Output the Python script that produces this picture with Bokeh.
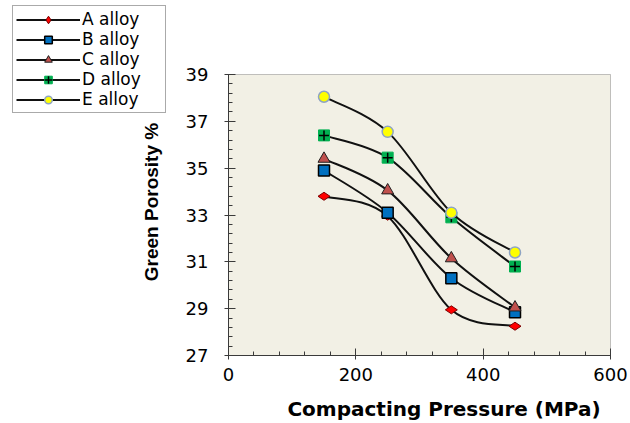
import numpy as np
from bokeh.plotting import figure
from bokeh.models import (Legend, LegendItem, FixedTicker, Range1d, LinearAxis,
                          BoxAnnotation, Label)
from bokeh.embed import file_html
from bokeh.resources import INLINE

# ---- data ----
pressure = [150, 250, 350, 450]
alloy_a = [33.8, 32.95, 28.95, 28.25]
alloy_b = [34.9, 33.1, 30.3, 28.85]
alloy_c = [35.4, 34.05, 31.15, 29.05]
alloy_d = [36.4, 35.45, 32.9, 30.8]
alloy_e = [38.05, 36.55, 33.1, 31.4]
series_names = ["A alloy", "B alloy", "C alloy", "D alloy", "E alloy"]
x_ticks = [0, 200, 400, 600]
y_ticks = [27, 29, 31, 33, 35, 37, 39]
x_min, x_max = 0, 600
y_min, y_max = 27, 39
x_title = "Compacting Pressure (MPa)"
y_title = "Green Porosity %"

FONT = "DejaVu Sans"
W, H = 630, 423
# plot box position on the canvas (pixels)
BOX_L, BOX_R, BOX_T, BOX_B = 228, 610, 74, 355
sx = (BOX_R - BOX_L) / (x_max - x_min)
sy = (BOX_B - BOX_T) / (y_max - y_min)


def px_to_x(px):
    return x_min + (px - BOX_L) / sx


def px_to_y(py):
    return y_min + (BOX_B - py) / sy


p = figure(width=W, height=H, output_backend="svg", toolbar_location=None,
           x_range=Range1d(px_to_x(0), px_to_x(W)),
           y_range=Range1d(px_to_y(H), px_to_y(0)),
           x_axis_location=None, y_axis_location=None, min_border=0)
p.background_fill_color = "white"
p.border_fill_color = "white"
p.outline_line_color = None
p.grid.visible = False

plot_box = BoxAnnotation(left=x_min, right=x_max, bottom=y_min, top=y_max,
                         fill_color="#F2F0E5", fill_alpha=1,
                         line_color="#3a3a3a", line_width=1, level="underlay")
p.add_layout(plot_box)

xaxis = LinearAxis(fixed_location=y_min, bounds=(x_min, x_max),
                   ticker=FixedTicker(ticks=x_ticks, minor_ticks=list(np.arange(0, 601, 40))))
yaxis = LinearAxis(fixed_location=x_min, bounds=(y_min, y_max),
                   ticker=FixedTicker(ticks=y_ticks, minor_ticks=list(np.arange(27, 39.01, 0.4))))
for ax in (xaxis, yaxis):
    ax.axis_line_color = "#3a3a3a"
    ax.major_tick_line_color = "#3a3a3a"
    ax.minor_tick_line_color = "#3a3a3a"
    ax.major_tick_in = 7
    ax.major_tick_out = 4
    ax.minor_tick_in = 4
    ax.minor_tick_out = 0
    ax.major_label_text_font = FONT
    ax.major_label_text_font_size = "18px"
    ax.major_label_text_color = "black"
xaxis.major_label_standoff = 8
yaxis.major_label_standoff = 16
p.add_layout(xaxis, "below")
p.add_layout(yaxis, "left")

# axis titles
p.add_layout(Label(x=px_to_x(443.5), y=px_to_y(408), text=x_title,
                   text_font=FONT, text_font_size="20px", text_font_style="bold",
                   text_color="black", text_align="center",
                   text_baseline="middle"))
p.add_layout(Label(x=px_to_x(150.5), y=px_to_y(201.5), text=y_title, angle=np.pi / 2,
                   text_font="Liberation Sans", text_font_size="19px",
                   text_font_style="bold", text_color="black",
                   text_align="center", text_baseline="middle"))


def smooth(xs, ys, t=1.0 / 6.0):
    xs = np.asarray(xs, float)
    ys = np.asarray(ys, float)
    xp = np.concatenate([[xs[0]], xs, [xs[-1]]])
    yp = np.concatenate([[ys[0]], ys, [ys[-1]]])
    n = len(xs)
    out = {k: [] for k in ("x0", "y0", "x1", "y1", "cx0", "cy0", "cx1", "cy1")}
    for i in range(n - 1):
        out["x0"].append(xs[i]); out["y0"].append(ys[i])
        out["x1"].append(xs[i + 1]); out["y1"].append(ys[i + 1])
        out["cx0"].append(xs[i] + (xp[i + 2] - xp[i]) * t)
        out["cy0"].append(ys[i] + (yp[i + 2] - yp[i]) * t)
        out["cx1"].append(xs[i + 1] - (xp[i + 3] - xp[i + 1]) * t)
        out["cy1"].append(ys[i + 1] - (yp[i + 3] - yp[i + 1]) * t)
    return out


series = [alloy_a, alloy_b, alloy_c, alloy_d, alloy_e]
items = []
for name, vals in zip(series_names, series):
    s = smooth(pressure, vals)
    bez = p.bezier(x0=s["x0"], y0=s["y0"], x1=s["x1"], y1=s["y1"],
                   cx0=s["cx0"], cy0=s["cy0"], cx1=s["cx1"], cy1=s["cy1"],
                   line_color="#111111", line_width=2)
    rs = [bez]
    if name == "A alloy":
        rs.append(p.scatter(pressure, vals, marker="diamond", angle=np.pi / 2, size=12,
                            fill_color="#FF0000", line_color="#7a0000", line_width=1))
    elif name == "B alloy":
        rs.append(p.scatter(pressure, vals, marker="square", size=11,
                            fill_color="#0070C0", line_color="black", line_width=1.5))
    elif name == "C alloy":
        rs.append(p.scatter(pressure, vals, marker="triangle", size=12,
                            fill_color="#C0504D", line_color="#202020", line_width=1))
    elif name == "D alloy":
        rs.append(p.scatter(pressure, vals, marker="square", size=11,
                            fill_color="#00B050", line_color="#00B050", line_width=1))
        rs.append(p.scatter(pressure, vals, marker="cross", size=10,
                            line_color="black", line_width=1.5))
    else:
        rs.append(p.scatter(pressure, vals, marker="circle", size=11,
                            fill_color="#FFFF00", line_color="#8EA4C4", line_width=1.5))
    items.append(LegendItem(label=name, renderers=rs))

legend = Legend(items=items, location=(12, 310))
legend.padding = 3
legend.spacing = 0
legend.glyph_width = 64
legend.glyph_height = 19
legend.label_height = 19
legend.label_width = 80
legend.label_standoff = 2
legend.label_text_font = FONT
legend.label_text_font_size = "17px"
legend.label_text_color = "black"
legend.border_line_color = "#555555"
legend.border_line_width = 1
legend.background_fill_color = "white"
legend.background_fill_alpha = 1
legend.margin = 0
p.add_layout(legend, "center")

open("out.html", "w").write(file_html(p, INLINE))
